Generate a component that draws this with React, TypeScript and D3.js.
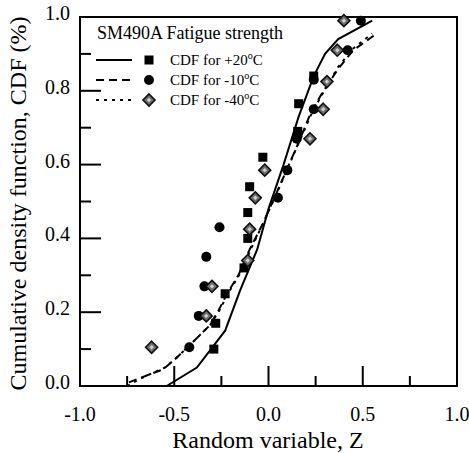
import React from 'react';
import * as d3 from 'd3';

// ---- data ----
const xTickValues = [-1.0, -0.5, 0.0, 0.5, 1.0];
const yTickValues = [0.0, 0.2, 0.4, 0.6, 0.8, 1.0];

const lineP20: [number, number][] = [
  [-0.54, 0.0], [-0.38, 0.05], [-0.23, 0.15], [-0.15, 0.26], [-0.06, 0.37],
  [0.0, 0.48], [0.08, 0.6], [0.16, 0.73], [0.24, 0.84], [0.3, 0.9], [0.37, 0.94], [0.55, 0.99],
];
const lineM10: [number, number][] = [
  [-0.74, 0.01], [-0.69, 0.02], [-0.56, 0.045], [-0.49, 0.075], [-0.41, 0.115], [-0.32, 0.16],
  [-0.27, 0.2], [-0.22, 0.25], [-0.16, 0.3], [-0.1, 0.37], [-0.03, 0.44], [0.04, 0.52],
  [0.1, 0.59], [0.16, 0.66], [0.22, 0.735], [0.28, 0.79], [0.37, 0.86], [0.45, 0.91], [0.56, 0.95],
];
const lineM40: [number, number][] = [
  [-0.75, 0.0], [-0.68, 0.02], [-0.55, 0.05], [-0.48, 0.08], [-0.4, 0.12], [-0.31, 0.165],
  [-0.26, 0.205], [-0.21, 0.255], [-0.15, 0.305], [-0.09, 0.375], [-0.02, 0.45], [0.05, 0.53],
  [0.11, 0.6], [0.17, 0.67], [0.23, 0.74], [0.29, 0.795], [0.37, 0.865], [0.45, 0.915], [0.55, 0.955],
];

const ptsP20: [number, number][] = [
  [-0.29, 0.1], [-0.28, 0.17], [-0.23, 0.25], [-0.13, 0.32], [-0.11, 0.4], [-0.11, 0.47],
  [-0.1, 0.54], [-0.03, 0.62], [0.155, 0.69], [0.16, 0.765], [0.24, 0.84],
];
const ptsM10: [number, number][] = [
  [-0.42, 0.105], [-0.37, 0.19], [-0.34, 0.27], [-0.33, 0.35], [-0.26, 0.43], [0.05, 0.51],
  [0.1, 0.585], [0.15, 0.67], [0.24, 0.75], [0.24, 0.83], [0.42, 0.91], [0.49, 0.99],
];
const ptsM40: [number, number][] = [
  [-0.62, 0.105], [-0.33, 0.19], [-0.3, 0.27], [-0.11, 0.34], [-0.1, 0.425], [-0.07, 0.51],
  [-0.02, 0.585], [0.22, 0.67], [0.29, 0.75], [0.31, 0.825], [0.365, 0.91], [0.4, 0.99],
];

const legendTitle = 'SM490A Fatigue strength';
const legendLabels = ['CDF for +20', 'CDF for -10', 'CDF for -40'];

const W = 469, H = 453;
const L = 80, R = 457, T = 17, B = 386;
const serif = '"Liberation Serif", "Times New Roman", serif';

export default function App() {
  const x = d3.scaleLinear().domain([-1, 1]).range([L, R]);
  const y = d3.scaleLinear().domain([0, 1]).range([B, T]);
  const line = d3.line<[number, number]>().x(d => x(d[0])).y(d => y(d[1]));

  const xMinor = d3.range(-1, 1.0001, 0.25);
  const yMinor = d3.range(0, 1.0001, 0.1);

  const square = (cx: number, cy: number, k: string) => (
    <rect key={k} x={cx - 4.5} y={cy - 4.5} width={9} height={9} fill="#000" />
  );
  const circle = (cx: number, cy: number, k: string) => (
    <circle key={k} cx={cx} cy={cy} r={5} fill="#000" />
  );
  const diamond = (cx: number, cy: number, k: string) => (
    <g key={k}>
      <path d={`M${cx},${cy - 6}L${cx + 6},${cy}L${cx},${cy + 6}L${cx - 6},${cy}Z`} fill="#6e6e6e" stroke="#111" strokeWidth={1.6} />
      <path d={`M${cx},${cy - 2.2}L${cx + 2.2},${cy}L${cx},${cy + 2.2}L${cx - 2.2},${cy}Z`} fill="#cfcfcf" />
    </g>
  );

  const legendRows = [
    { dash: undefined, marker: square },
    { dash: '8,5', marker: circle },
    { dash: '3,5', marker: diamond },
  ];

  return (
    <svg width={W} height={H} style={{ display: 'block', position: 'absolute', left: 0, top: 0 }}>
      <rect x={0} y={0} width={W} height={H} fill="#fff" />
      {xMinor.map((v, i) => {
        const major = Math.abs(Math.round(v * 2) - v * 2) < 1e-6;
        return <line key={'xt' + i} x1={x(v)} x2={x(v)} y1={B} y2={B - (major ? 20 : 10)} stroke="#000" strokeWidth={2} />;
      })}
      {yMinor.map((v, i) => {
        const major = Math.abs(Math.round(v * 5) - v * 5) < 1e-6;
        return <line key={'yt' + i} x1={L} x2={L + (major ? 21 : 11)} y1={y(v)} y2={y(v)} stroke="#000" strokeWidth={2} />;
      })}
      <rect x={L} y={T} width={R - L} height={B - T} fill="none" stroke="#000" strokeWidth={2} />

      {xTickValues.map((v, i) => (
        <text key={'xl' + i} x={x(v)} y={421} textAnchor="middle" fontFamily={serif} fontSize={20}>{v.toFixed(1)}</text>
      ))}
      {yTickValues.map((v, i) => (
        <text key={'yl' + i} x={70} y={y(v) + 3} textAnchor="end" fontFamily={serif} fontSize={20}>{v.toFixed(1)}</text>
      ))}
      <text x={268} y={448} textAnchor="middle" fontFamily={serif} fontSize={24}>Random variable, Z</text>
      <text transform={`translate(26,${(T + B) / 2 + 2}) rotate(-90)`} textAnchor="middle" fontFamily={serif} fontSize={24}>Cumulative density function, CDF (%)</text>

      <path d={line(lineP20) || ''} fill="none" stroke="#000" strokeWidth={2} />
      <path d={line(lineM10) || ''} fill="none" stroke="#000" strokeWidth={2} strokeDasharray="8,5" />
      <path d={line(lineM40) || ''} fill="none" stroke="#000" strokeWidth={2} strokeDasharray="3,5" />

      {ptsP20.map((d, i) => square(x(d[0]), y(d[1]), 's' + i))}
      {ptsM10.map((d, i) => circle(x(d[0]), y(d[1]), 'c' + i))}
      {ptsM40.map((d, i) => diamond(x(d[0]), y(d[1]), 'd' + i))}

      <text x={97} y={39} fontFamily={serif} fontSize={18}>{legendTitle}</text>
      {legendRows.map((r, i) => {
        const ly = 60 + i * 20;
        return (
          <g key={'lg' + i}>
            <line x1={96} x2={132} y1={ly} y2={ly} stroke="#000" strokeWidth={2} strokeDasharray={r.dash} />
            {r.marker(149, ly, 'lm' + i)}
            <text x={170} y={ly + 5} fontFamily={serif} fontSize={15}>
              {legendLabels[i]}
              <tspan fontSize={10} dy={-6}>o</tspan>
              <tspan dy={6}>C</tspan>
            </text>
          </g>
        );
      })}
    </svg>
  );
}
